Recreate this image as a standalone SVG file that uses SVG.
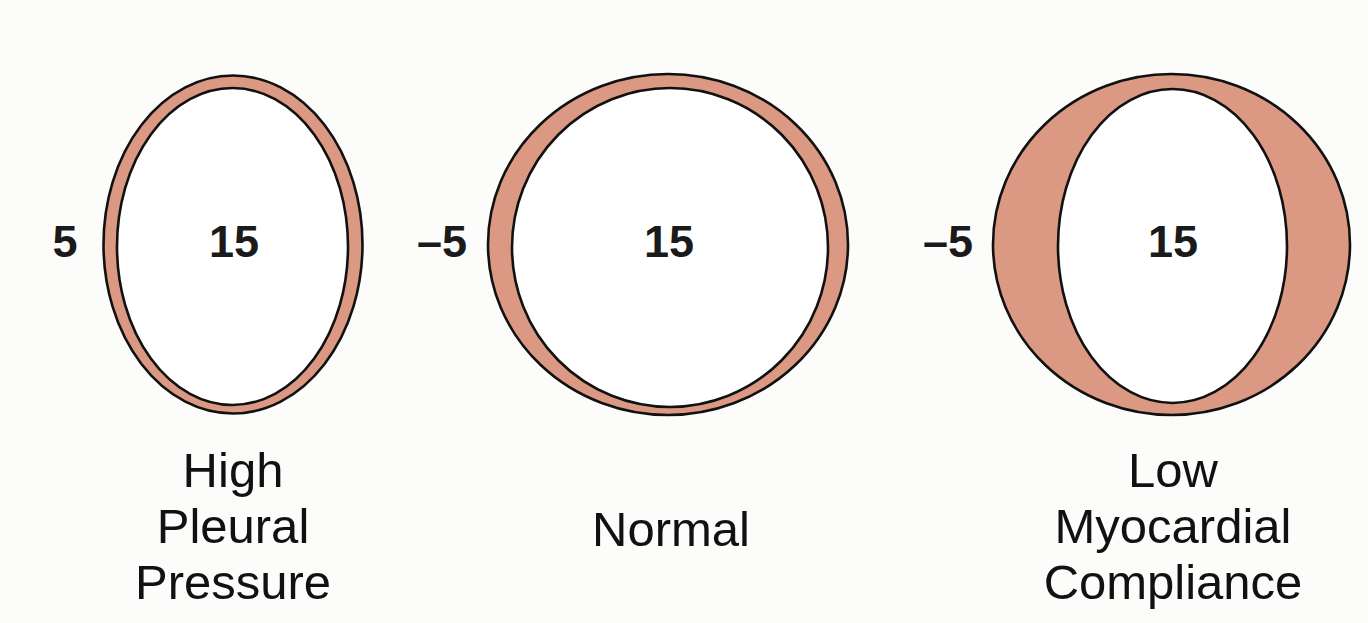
<svg xmlns="http://www.w3.org/2000/svg" width="1368" height="623" viewBox="0 0 1368 623">
<style>
.wall{fill:#DB9882;stroke:#111;stroke-width:2.6}
.cav{fill:#FFFFFF;stroke:#111;stroke-width:2.6}
.num{font-family:"Liberation Sans",Arial,sans-serif;font-weight:bold;font-size:45px;fill:#1a1a1a;text-anchor:middle}
.lbl{font-family:"Liberation Sans",Arial,sans-serif;font-size:49px;fill:#111;text-anchor:middle}
</style>
<rect x="0" y="0" width="1368" height="623" fill="#FCFDFB"/>
<g id="high-pleural">
<ellipse class="wall" cx="233" cy="244.5" rx="129.5" ry="169"/>
<ellipse class="cav" cx="232.5" cy="246.5" rx="115.5" ry="158.5"/>
<text class="num" x="234" y="257">15</text>
<text class="num" x="65" y="257">5</text>
<text class="lbl" x="233" y="487">High</text>
<text class="lbl" x="233" y="543">Pleural</text>
<text class="lbl" x="233" y="599">Pressure</text>
</g>
<g id="normal">
<ellipse class="wall" cx="668" cy="244.5" rx="180" ry="170.5"/>
<ellipse class="cav" cx="670" cy="247.5" rx="158" ry="159.5"/>
<text class="num" x="669" y="257">15</text>
<text class="num" x="442" y="257">–5</text>
<text class="lbl" x="671" y="546">Normal</text>
</g>
<g id="low-compliance">
<ellipse class="wall" cx="1171.5" cy="244.5" rx="178.5" ry="170.5"/>
<ellipse class="cav" cx="1172.5" cy="246" rx="114.5" ry="157"/>
<text class="num" x="1173" y="257">15</text>
<text class="num" x="948" y="257">–5</text>
<text class="lbl" x="1173" y="487">Low</text>
<text class="lbl" x="1173" y="543">Myocardial</text>
<text class="lbl" x="1173" y="599">Compliance</text>
</g>
<g id="connectors"/>
</svg>
